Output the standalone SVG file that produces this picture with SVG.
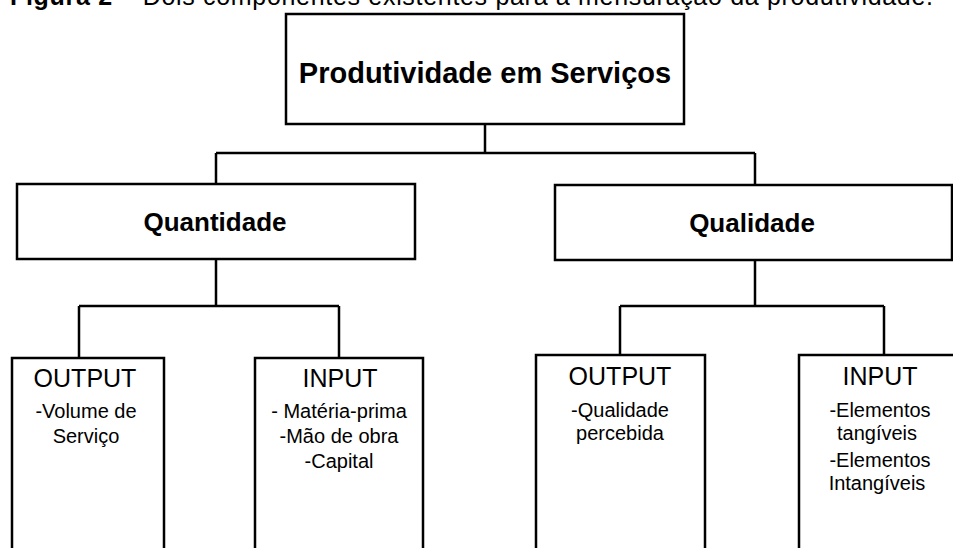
<svg xmlns="http://www.w3.org/2000/svg" width="953" height="548" viewBox="0 0 953 548">
<style>
.box{fill:#fff;stroke:#000;stroke-width:2.5}
.ln{fill:none;stroke:#000;stroke-width:2.5}
.t{font-family:"Liberation Sans",Arial,sans-serif;fill:#000;text-anchor:middle}
.b{font-weight:bold}
.h{font-size:25px}
.s{font-size:20px}
</style>
<rect width="953" height="548" fill="#fff"/>
<text x="10" y="5" font-family="'Liberation Sans',Arial,sans-serif" font-size="25" textLength="923" lengthAdjust="spacing"><tspan font-weight="bold">Figura 2</tspan> – Dois componentes existentes para a mensuração da produtividade.</text>
<g id="connectors">
<path class="ln" d="M485 124V153M216 153H755M216 153V184M755 153V185"/>
<path class="ln" d="M216 259V306M79 306H339M79 306V358M339 306V358"/>
<path class="ln" d="M755 260V306M620 306H884M620 306V355M884 306V355"/>
</g>
<g id="produtividade">
<rect class="box" x="286" y="14" width="398" height="110"/>
<text class="t b" x="485" y="83" font-size="29">Produtividade em Serviços</text>
</g>
<g id="quantidade">
<rect class="box" x="17" y="184" width="398" height="75"/>
<text class="t b" x="215" y="231" font-size="26">Quantidade</text>
</g>
<g id="qualidade">
<rect class="box" x="555" y="185" width="397" height="75"/>
<text class="t b" x="752" y="232" font-size="26">Qualidade</text>
</g>
<g id="output-quantidade">
<rect class="box" x="12" y="358" width="152" height="210"/>
<text class="t h" x="85" y="387">OUTPUT</text>
<text class="t s" x="86" y="418">-Volume de</text>
<text class="t s" x="86" y="443">Serviço</text>
</g>
<g id="input-quantidade">
<rect class="box" x="255" y="358" width="168" height="210"/>
<text class="t h" x="340" y="387">INPUT</text>
<text class="t s" x="339" y="418">- Matéria-prima</text>
<text class="t s" x="339" y="443">-Mão de obra</text>
<text class="t s" x="339" y="468">-Capital</text>
</g>
<g id="output-qualidade">
<rect class="box" x="536" y="355" width="169" height="210"/>
<text class="t h" x="620" y="385">OUTPUT</text>
<text class="t s" x="620" y="417">-Qualidade</text>
<text class="t s" x="620" y="440">percebida</text>
</g>
<g id="input-qualidade">
<rect class="box" x="799" y="355" width="170" height="210"/>
<text class="t h" x="880" y="385">INPUT</text>
<text class="t s" x="880" y="417">-Elementos</text>
<text class="t s" x="877" y="440">tangíveis</text>
<text class="t s" x="880" y="467">-Elementos</text>
<text class="t s" x="877" y="490">Intangíveis</text>
</g>
</svg>
